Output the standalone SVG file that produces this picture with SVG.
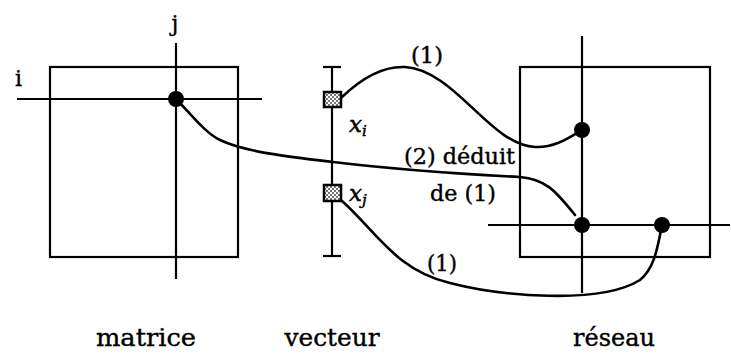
<svg xmlns="http://www.w3.org/2000/svg" width="731" height="355" viewBox="0 0 731 355">
<style>
.ln{stroke:#000;stroke-width:2.2;fill:none}
.cv{stroke:#000;stroke-width:2.6;fill:none;stroke-linecap:round}
.dot{fill:#000}
.lbl{font-family:"DejaVu Serif","Liberation Serif",serif;fill:#000;stroke:#000;stroke-width:0.4}
.big{font-size:25px}
.mid{font-size:22px}
.sm{font-size:22px}
.mx{font-family:"DejaVu Serif","Liberation Serif",serif;font-style:italic;font-size:23px;fill:#000;stroke:#000;stroke-width:0.5}
.sub{font-size:15px}
.sq{fill:url(#chk);stroke:#000;stroke-width:2.5}
</style>
<defs>
<pattern id="chk" width="4" height="4" patternUnits="userSpaceOnUse">
<rect width="4" height="4" fill="#fff"/>
<rect width="2" height="2" fill="#777"/>
<rect x="2" y="2" width="2" height="2" fill="#777"/>
</pattern>
</defs>
<rect width="731" height="355" fill="#fff"/>
<g id="matrice">
<rect class="ln" x="50" y="67" width="188" height="190"/>
<line class="ln" x1="17" y1="99" x2="262" y2="99"/>
<line class="ln" x1="176" y1="43" x2="176" y2="279"/>
<circle class="dot" cx="176" cy="99" r="8"/>
<text class="lbl sm" x="18.5" y="86" text-anchor="middle">i</text>
<text class="lbl sm" x="175" y="31" text-anchor="middle">j</text>
<text class="lbl big" x="146" y="346" text-anchor="middle" textLength="100" lengthAdjust="spacingAndGlyphs">matrice</text>
</g>
<g id="vecteur">
<line class="ln" x1="332" y1="67" x2="332" y2="256"/>
<line class="ln" x1="323" y1="67" x2="341" y2="67"/>
<line class="ln" x1="323" y1="256" x2="341" y2="256"/>
<rect class="sq" x="324" y="92" width="17" height="15"/>
<rect class="sq" x="324" y="185" width="17" height="16"/>
<text class="mx" x="349" y="132">x<tspan class="sub" dy="4">i</tspan></text>
<text class="mx" x="349" y="201">x<tspan class="sub" dy="4">j</tspan></text>
<text class="lbl big" x="332" y="346" text-anchor="middle" textLength="95" lengthAdjust="spacingAndGlyphs">vecteur</text>
</g>
<g id="reseau">
<rect class="ln" x="520" y="67" width="190" height="190"/>
<line class="ln" x1="582" y1="36" x2="582" y2="293"/>
<line class="ln" x1="488" y1="225" x2="730" y2="225"/>
<circle class="dot" cx="582" cy="130" r="8"/>
<circle class="dot" cx="582" cy="225" r="8"/>
<circle class="dot" cx="662" cy="225" r="8"/>
<text class="lbl big" x="614" y="346" text-anchor="middle" textLength="82" lengthAdjust="spacingAndGlyphs">réseau</text>
</g>
<g id="connectors">
<path class="cv" d="M342,97 C365,75 385,66 405,67 C455,70 490,145 535,147 C555,148 570,137 582,130"/>
<path class="cv" d="M176,99 C190,113 205,133 220,140 C245,152 290,157 333,162 C400,170 480,175 520,177 C545,179 555,190 575,215"/>
<path class="cv" d="M342,201 C375,230 395,270 450,283 C500,296 600,305 640,280 C655,268 658,245 662,225"/>
</g>
<g id="labels">
<text class="lbl mid" x="427" y="63" text-anchor="middle" textLength="32" lengthAdjust="spacingAndGlyphs">(1)</text>
<text class="lbl mid" x="459.5" y="164" text-anchor="middle" textLength="111" lengthAdjust="spacingAndGlyphs">(2) déduit</text>
<text class="lbl mid" x="463" y="201" text-anchor="middle" textLength="66" lengthAdjust="spacingAndGlyphs">de (1)</text>
<text class="lbl mid" x="442" y="271" text-anchor="middle" textLength="30" lengthAdjust="spacingAndGlyphs">(1)</text>
</g>
</svg>
